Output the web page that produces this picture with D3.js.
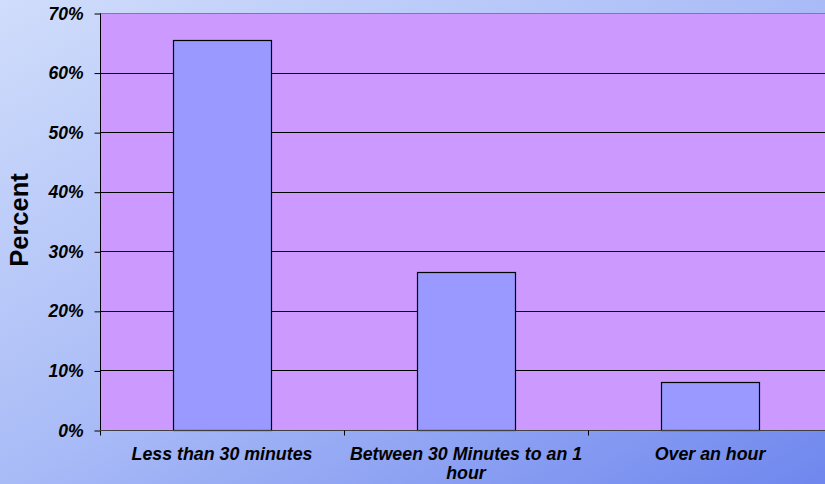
<!DOCTYPE html>
<html>
<head>
<meta charset="utf-8">
<script src="https://cdn.jsdelivr.net/npm/d3@7"></script>
<style>
  html, body { margin: 0; padding: 0; }
  svg { display: block; }
  text { font-family: "Liberation Sans", Arial, sans-serif; fill: #000; }
</style>
</head>
<body>
<svg id="chart" width="825" height="484"></svg>
<script>
// Time spent — share of respondents per duration bucket
const categories = ["Less than 30 minutes", "Between 30 Minutes to an 1 hour", "Over an hour"];
const percentValues = [65.5, 26.5, 8];
const yTickValues = [0, 10, 20, 30, 40, 50, 60, 70];
const yTickLabels = ["0%", "10%", "20%", "30%", "40%", "50%", "60%", "70%"];
const yAxisTitle = "Percent";

const W = 825, H = 484;
const plot = { left: 100, right: 832, top: 13, bottom: 430 };

const svg = d3.select("#chart");

// Diagonal blue background
const defs = svg.append("defs");
const grad = defs.append("linearGradient")
  .attr("id", "bg").attr("x1", "0").attr("y1", "0").attr("x2", "1").attr("y2", "1");
grad.append("stop").attr("offset", "0%").attr("stop-color", "#d0ddfb");
grad.append("stop").attr("offset", "50%").attr("stop-color", "#a9bbf7");
grad.append("stop").attr("offset", "100%").attr("stop-color", "#6f87ee");
svg.append("rect").attr("width", W).attr("height", H).attr("fill", "url(#bg)");

const x = d3.scaleBand().domain(categories).range([plot.left, plot.right]).paddingInner(0).paddingOuter(0);
const y = d3.scaleLinear().domain([0, 70]).range([plot.bottom, plot.top]);

// Plot area
svg.append("rect")
  .attr("x", plot.left).attr("y", plot.top)
  .attr("width", plot.right - plot.left).attr("height", plot.bottom - plot.top)
  .attr("fill", "#cc99ff");

// Horizontal gridlines
svg.append("g").selectAll("line")
  .data(yTickValues.filter(v => v > 0))
  .join("line")
  .attr("x1", plot.left).attr("x2", plot.right)
  .attr("y1", d => Math.round(y(d)) + 0.5).attr("y2", d => Math.round(y(d)) + 0.5)
  .attr("stroke", d => d === 70 ? "#808080" : "#000")
  .attr("stroke-width", 1);

// Bars
const barW = x.bandwidth() * 0.4;
svg.append("g").selectAll("rect")
  .data(categories.map((c, i) => ({ c, v: percentValues[i] })))
  .join("rect")
  .attr("x", d => Math.round(x(d.c) + (x.bandwidth() - barW) / 2) + 0.5)
  .attr("y", d => Math.round(y(d.v)) + 0.5)
  .attr("width", Math.round(barW))
  .attr("height", d => Math.round(y(0)) - Math.round(y(d.v)))
  .attr("fill", "#9999ff")
  .attr("stroke", "#000")
  .attr("stroke-width", 1.2);

// Y axis
const yAxis = d3.axisLeft(y)
  .tickValues(yTickValues)
  .tickFormat((d, i) => yTickLabels[i])
  .tickSize(6)
  .tickPadding(11);
const gy = svg.append("g")
  .attr("transform", `translate(${plot.left + 0.5},0.5)`)
  .call(yAxis);
gy.select(".domain").attr("stroke", "#000").attr("d", `M0,${plot.top}V${plot.bottom + 5}`);
gy.selectAll(".tick line").attr("stroke", "#000");
gy.selectAll(".tick text")
  .style("font-size", "17.5px").style("font-weight", "bold").style("font-style", "italic")
  .attr("fill", "#000");

// X axis
const xAxis = d3.axisBottom(x).tickSize(0).tickPadding(0).tickFormat("");
const gx = svg.append("g")
  .attr("transform", `translate(0,${plot.bottom + 0.5})`)
  .call(xAxis);
gx.select(".domain").attr("stroke", "#404040").attr("d", `M${plot.left},0H${plot.right}`);
// category separators below the axis
gx.append("g").selectAll("line")
  .data(categories.slice(1))
  .join("line")
  .attr("x1", d => Math.round(x(d)) + 0.5).attr("x2", d => Math.round(x(d)) + 0.5)
  .attr("y1", 0).attr("y2", 5)
  .attr("stroke", "#000");

// Category labels, wrapped to the band width
const labelG = svg.append("g");
categories.forEach(c => {
  const cx = x(c) + x.bandwidth() / 2;
  const t = labelG.append("text")
    .attr("x", cx)
    .attr("y", 460)
    .attr("text-anchor", "middle")
    .style("font-size", "17.8px").style("font-weight", "bold").style("font-style", "italic");
  const words = c.split(" ");
  let line = [];
  let tspan = t.append("tspan").attr("x", cx).attr("dy", 0);
  words.forEach(w => {
    line.push(w);
    tspan.text(line.join(" "));
    if (tspan.node().getComputedTextLength() > x.bandwidth() - 10 && line.length > 1) {
      line.pop();
      tspan.text(line.join(" "));
      line = [w];
      tspan = t.append("tspan").attr("x", cx).attr("dy", "1.05em").text(w);
    }
  });
});

// Y axis title
svg.append("text")
  .attr("transform", `translate(28,${(173 + 267) / 2}) rotate(-90)`)
  .attr("text-anchor", "middle")
  .style("font-size", "25.5px").style("font-weight", "bold")
  .text(yAxisTitle);
</script>
</body>
</html>
